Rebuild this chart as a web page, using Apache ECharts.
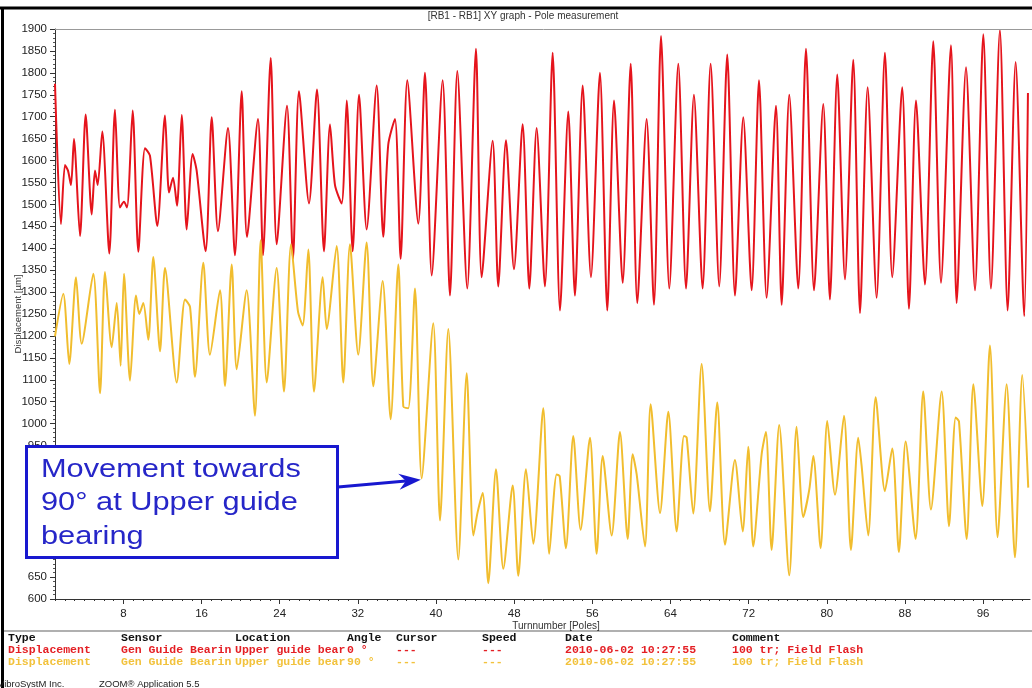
<!DOCTYPE html>
<html><head><meta charset="utf-8">
<script src="https://cdn.jsdelivr.net/npm/echarts@6/dist/echarts.min.js"></script>
<style>html,body{margin:0;padding:0;background:#fff}#c{width:1032px;height:688px}</style>
</head><body><div id="c"></div>
<script>
const chartTitle = '[RB1 - RB1] XY graph - Pole measurement';
const xAxisName = 'Turnnumber [Poles]';
const yAxisName = 'Displacement [µm]';
const xTickLabels = [8, 16, 24, 32, 40, 48, 56, 64, 72, 80, 88, 96];
const xMinorTicks = Array.from({length: 100}, (_, i) => i + 1);
const yRange = [600, 1900];
const xRange = [1, 100.8];

// [pole, displacement µm] — sensor at 0°
const bearing0 = [[1.0,1775],[1.61,1455],[2.02,1590],[2.33,1577],[2.64,1544],[2.94,1649],[3.56,1428],[4.14,1705],[4.76,1477],[5.09,1577],[5.37,1544],[5.84,1666],[6.56,1388],[7.14,1716],[7.65,1493],[8.06,1506],[8.37,1493],[8.95,1714],[9.53,1392],[10.21,1628],[10.72,1611],[11.47,1451],[12.26,1703],[12.67,1527],[13.08,1561],[13.49,1497],[13.97,1704],[14.48,1443],[15.09,1615],[15.5,1577],[16.42,1393],[17.04,1699],[17.68,1439],[18.71,1674],[19.42,1384],[20.11,1758],[20.65,1426],[21.78,1695],[22.29,1384],[23.08,1834],[23.69,1409],[24.75,1725],[25.36,1376],[25.97,1758],[27.0,1502],[27.82,1762],[28.53,1393],[29.15,1682],[29.66,1544],[30.34,1502],[30.86,1737],[31.47,1393],[32.12,1750],[32.9,1443],[33.93,1771],[34.6,1426],[35.11,1636],[35.8,1695],[36.38,1376],[37.06,1783],[38.19,1456],[38.87,1800],[39.56,1338],[40.68,1783],[41.43,1292],[42.18,1804],[43.2,1308],[44.09,1855],[44.67,1334],[45.8,1645],[46.37,1313],[47.16,1646],[47.98,1352],[48.87,1683],[49.55,1308],[50.3,1674],[51.15,1313],[51.94,1846],[52.69,1258],[53.54,1712],[54.22,1292],[55.01,1771],[55.86,1334],[56.78,1800],[57.53,1258],[58.22,1737],[59.11,1321],[59.93,1821],[60.6,1275],[61.56,1695],[62.31,1271],[63.03,1884],[63.88,1308],[64.8,1821],[65.59,1308],[66.4,1750],[67.29,1308],[68.11,1821],[68.99,1313],[69.81,1842],[70.6,1292],[71.45,1699],[72.31,1304],[73.06,1783],[73.84,1287],[74.8,1725],[75.38,1271],[76.16,1750],[77.08,1308],[77.87,1855],[78.69,1304],[79.64,1729],[80.32,1283],[81.07,1796],[81.86,1329],[82.71,1830],[83.4,1252],[84.18,1767],[85.1,1287],[85.95,1846],[86.7,1334],[87.72,1767],[88.41,1262],[89.13,1737],[90.05,1317],[90.9,1872],[91.69,1321],[92.71,1863],[93.29,1275],[94.25,1813],[95.17,1304],[96.02,1888],[96.8,1308],[97.72,1898],[98.51,1258],[99.33,1825],[100.21,1245],[100.59,1754]];

// [pole, displacement µm] — sensor at 90°
const bearing90 = [[1.0,1199],[1.85,1296],[2.46,1136],[3.15,1334],[3.73,1182],[4.92,1342],[5.61,1069],[6.12,1346],[6.8,1174],[7.32,1275],[7.72,1132],[8.06,1342],[8.68,1098],[9.29,1292],[9.63,1250],[10.04,1275],[10.55,1191],[11.06,1380],[11.75,1165],[12.26,1355],[13.46,1094],[14.31,1283],[14.82,1266],[15.33,1107],[16.18,1367],[16.86,1157],[17.89,1304],[18.4,1086],[19.09,1363],[19.6,1124],[20.62,1304],[21.47,1018],[22.05,1418],[22.67,1094],[23.69,1355],[24.44,1073],[25.16,1409],[25.87,1256],[26.35,1224],[26.93,1397],[27.51,1073],[28.4,1334],[28.81,1216],[29.83,1405],[30.51,1094],[31.19,1409],[32.04,1157],[32.9,1413],[33.58,1085],[34.54,1325],[35.36,1010],[36.14,1363],[36.65,1039],[37.16,1035],[37.85,1308],[38.53,875],[39.72,1229],[40.41,779],[41.26,1216],[42.28,690],[43.14,1115],[43.82,745],[44.25,797],[44.78,842],[45.35,636],[46.14,896],[46.89,669],[47.85,859],[48.42,653],[49.21,896],[49.96,726],[50.98,1035],[51.59,703],[52.35,884],[52.66,880],[53.3,716],[54.05,972],[54.8,758],[55.76,968],[56.44,703],[57.06,926],[57.98,745],[58.83,981],[59.62,737],[60.13,930],[60.54,884],[61.39,720],[61.97,1044],[62.93,796],[63.78,1027],[64.63,754],[65.38,972],[65.66,968],[66.33,795],[67.19,1136],[68.04,800],[68.79,1048],[69.58,724],[70.6,917],[71.39,754],[71.96,947],[72.47,720],[73.33,930],[73.77,981],[74.35,712],[75.13,997],[76.16,654],[76.91,993],[77.59,787],[78.21,850],[78.62,926],[79.37,716],[80.05,1006],[80.84,838],[81.76,1018],[82.47,712],[83.22,968],[83.56,905],[84.24,745],[85.0,1060],[85.95,846],[86.7,943],[87.38,707],[88.07,959],[89.09,737],[89.87,1073],[90.66,804],[91.76,1073],[92.51,766],[93.19,1014],[93.53,1005],[94.32,737],[95.0,1090],[95.92,812],[96.7,1178],[97.48,741],[98.41,1090],[99.26,695],[100.01,1111],[100.62,854]];

const arrowTarget = [38.45, 872];
const annotationLines = ['Movement towards', '90° at Upper guide', 'bearing'];
const tableHeader = ['Type', 'Sensor', 'Location', 'Angle', 'Cursor', 'Speed', 'Date', 'Comment'];
const tableRows = [
  ['Displacement', 'Gen Guide Bearin', 'Upper guide bear', '0 °', '---', '---', '2010-06-02 10:27:55', '100 tr; Field Flash'],
  ['Displacement', 'Gen Guide Bearin', 'Upper guide bear', '90 °', '---', '---', '2010-06-02 10:27:55', '100 tr; Field Flash']
];
const footerTexts = ['VibroSystM Inc.', 'ZOOM® Application 5.5'];

const RED = '#e5141c', YELLOW = '#f1bd2e', BLUE = '#1818cf';
const chart = echarts.init(document.getElementById('c'), null, {renderer: 'canvas'});
const labelFont = {fontFamily: 'Liberation Sans', fontSize: 11.5, color: '#222'};

chart.setOption({
  animation: false,
  backgroundColor: '#fff',
  grid: {left: 55, right: 2, top: 29, bottom: 89, containLabel: false, outerBoundsMode: 'none'},
  xAxis: [{
    type: 'value', min: xRange[0], max: xRange[1],
    axisLine: {lineStyle: {color: '#333', width: 1}},
    axisTick: {show: true, customValues: xMinorTicks, length: 2, lineStyle: {color: '#333'}},
    axisLabel: Object.assign({customValues: xTickLabels, margin: 9, formatter: v => String(v)}, labelFont),
    splitLine: {show: false}
  }, {
    type: 'value', min: xRange[0], max: xRange[1], position: 'bottom',
    axisLine: {show: false},
    axisTick: {show: true, customValues: xTickLabels, length: 5, lineStyle: {color: '#333'}},
    axisLabel: {show: false},
    splitLine: {show: false}
  }],
  yAxis: {
    type: 'value', min: yRange[0], max: yRange[1], interval: 50,
    axisLine: {show: true, lineStyle: {color: '#333', width: 1}},
    axisTick: {show: true, length: 5, lineStyle: {color: '#333'}},
    minorTick: {show: true, splitNumber: 5, length: 2, lineStyle: {color: '#555'}},
    axisLabel: Object.assign({margin: 8, formatter: v => String(v)}, labelFont),
    splitLine: {show: false}
  },
  series: [{
    name: 'Displacement 0°', type: 'line', data: bearing0, showSymbol: false,
    smooth: 0.25, lineStyle: {color: RED, width: 2}, itemStyle: {color: RED}
  }, {
    name: 'Displacement 90°', type: 'line', data: bearing90, showSymbol: false,
    smooth: 0.25, lineStyle: {color: YELLOW, width: 2}, itemStyle: {color: YELLOW}
  }]
});

const tip = chart.convertToPixel({xAxisIndex: 0, yAxisIndex: 0}, arrowTarget);
const S = [338, 487];
const dx = tip[0] - S[0], dy = tip[1] - S[1], len = Math.hypot(dx, dy);
const ux = dx / len, uy = dy / len, nx = -uy, ny = ux;
const L = 22, W = 8, N = 7;
const headPts = [
  [tip[0], tip[1]],
  [tip[0] - L * ux + W * nx, tip[1] - L * uy + W * ny],
  [tip[0] - (L - N) * ux, tip[1] - (L - N) * uy],
  [tip[0] - L * ux - W * nx, tip[1] - L * uy - W * ny]
];

const colX = [8, 121, 235, 347, 396, 482, 565, 732];
const rowY = [638, 650, 662];
const rowColors = ['#111', '#e41f24', '#f2c23c'];
const monoFont = 'bold 11.5px "Liberation Mono"';
const g = [];
g.push({type: 'line', shape: {x1: 0, y1: 8, x2: 1032, y2: 8}, style: {stroke: '#000', lineWidth: 3}, z: 100});
g.push({type: 'line', shape: {x1: 2.5, y1: 7, x2: 2.5, y2: 688}, style: {stroke: '#000', lineWidth: 3}, z: 100});
g.push({type: 'line', shape: {x1: 55, y1: 29.5, x2: 1032, y2: 29.5}, style: {stroke: '#999', lineWidth: 1}, z: 100});
g.push({type: 'line', shape: {x1: 4, y1: 631, x2: 1032, y2: 631}, style: {stroke: '#b0b0b0', lineWidth: 2}, z: 100});
g.push({type: 'text', x: 523, y: 16, style: {text: chartTitle, font: '10px "Liberation Sans"', fill: '#333', textAlign: 'center', textVerticalAlign: 'middle'}, z: 100});
g.push({type: 'text', x: 556, y: 626, style: {text: xAxisName, font: '10px "Liberation Sans"', fill: '#333', textAlign: 'center', textVerticalAlign: 'middle'}, z: 100});
g.push({type: 'text', x: 18, y: 314, rotation: Math.PI / 2, style: {text: yAxisName, font: '9.5px "Liberation Sans"', fill: '#333', textAlign: 'center', textVerticalAlign: 'middle'}, z: 100});
[tableHeader].concat(tableRows).forEach((row, r) => {
  row.forEach((cell, c) => {
    g.push({type: 'text', x: colX[c], y: rowY[r], style: {text: cell, font: monoFont, fill: rowColors[r], textAlign: 'left', textVerticalAlign: 'middle'}, z: 100});
  });
});
g.push({type: 'text', x: -2, y: 684, style: {text: footerTexts[0], font: '9.5px "Liberation Sans"', fill: '#222', textAlign: 'left', textVerticalAlign: 'middle'}, z: 100});
g.push({type: 'text', x: 99, y: 684, style: {text: footerTexts[1], font: '9.5px "Liberation Sans"', fill: '#222', textAlign: 'left', textVerticalAlign: 'middle'}, z: 100});
// annotation box
g.push({type: 'rect', shape: {x: 26.5, y: 446.5, width: 311, height: 111}, style: {fill: '#fff', stroke: BLUE, lineWidth: 3}, z: 200});
annotationLines.forEach((t, i) => {
  g.push({type: 'text', x: 41, y: 470 + i * 33.5, scaleX: 1.23, style: {text: t, font: '25px "Liberation Sans"', fill: '#2626c8', textAlign: 'left', textVerticalAlign: 'middle'}, z: 201});
});
g.push({type: 'line', shape: {x1: S[0], y1: S[1], x2: tip[0] - (L - N) * ux, y2: tip[1] - (L - N) * uy}, style: {stroke: BLUE, lineWidth: 3}, z: 200});
g.push({type: 'polygon', shape: {points: headPts}, style: {fill: BLUE}, z: 200});

chart.setOption({graphic: g});
</script>
</body></html>
